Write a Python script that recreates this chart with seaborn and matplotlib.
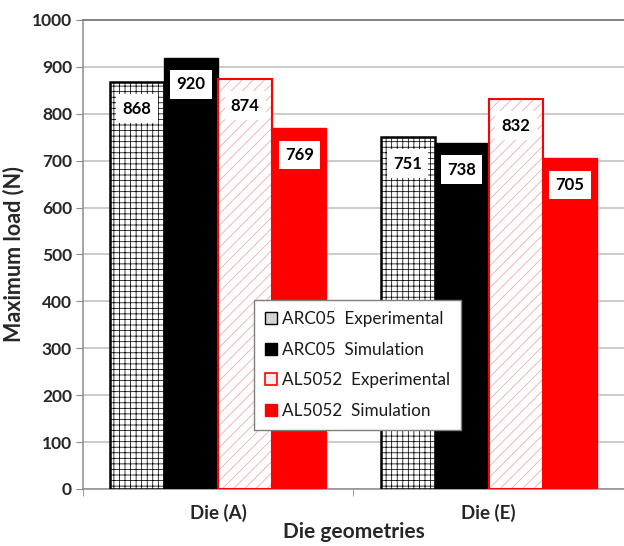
import matplotlib
matplotlib.use("Agg")
import matplotlib.pyplot as plt
import seaborn as sns
import pandas as pd
from matplotlib.patches import Patch, Rectangle

# ---- data ----
dies = ["Die (A)", "Die (E)"]
series = ["ARC05  Experimental", "ARC05  Simulation", "AL5052  Experimental", "AL5052  Simulation"]
arc05_exp = [868, 751]
arc05_sim = [920, 738]
al5052_exp = [874, 832]
al5052_sim = [769, 705]
yticks = [0, 100, 200, 300, 400, 500, 600, 700, 800, 900, 1000]

values = [arc05_exp, arc05_sim, al5052_exp, al5052_sim]
rows = []
for s, vals in zip(series, values):
    for d, v in zip(dies, vals):
        rows.append({"die": d, "load": v, "series": s})
df = pd.DataFrame(rows)

sns.set_style("white")
FONT = ["Lato", "DejaVu Sans"]
plt.rcParams["font.family"] = FONT
plt.rcParams["hatch.linewidth"] = 0.55

fig = plt.figure(figsize=(6.24, 5.46), dpi=100)
ax = fig.add_axes([0.133, 0.1044, 0.867, 0.859])

palette = {series[0]: "white", series[1]: "black", series[2]: "white", series[3]: "#ff0000"}
sns.barplot(data=df, x="die", y="load", hue="series", hue_order=series, order=dies,
            palette=palette, saturation=1, width=0.8, legend=False, ax=ax, zorder=3)

# style each series
for i, cont in enumerate(ax.containers):
    for p in cont.patches:
        if i == 0:
            p.set_facecolor("white")
            p.set_edgecolor("black")
            p.set_hatch("+++")
            p.set_linewidth(0.7)
            ax.add_patch(Rectangle(p.get_xy(), p.get_width(), p.get_height(), fill=False,
                                   edgecolor="black", lw=1.8, zorder=4))
        elif i == 1:
            p.set_facecolor("black")
            p.set_edgecolor("black")
            p.set_linewidth(1.0)
        elif i == 2:
            p.set_facecolor("white")
            p.set_edgecolor("#f4a3a3")
            p.set_hatch("///")
            p.set_linewidth(0.7)
            ax.add_patch(Rectangle(p.get_xy(), p.get_width(), p.get_height(), fill=False,
                                   edgecolor="#ff0000", lw=1.5, zorder=4))
        else:
            p.set_facecolor("#ff0000")
            p.set_edgecolor("#ff0000")
            p.set_linewidth(1.0)

# value labels
for cont in ax.containers:
    for p in cont.patches:
        h = p.get_height()
        ax.text(p.get_x() + p.get_width() / 2, h - 57, f"{h:.0f}", ha="center", va="center",
                fontsize=12, fontweight="bold", color="black", zorder=6, family=FONT,
                bbox=dict(boxstyle="square,pad=0.38", facecolor="white", edgecolor="none"))

# axes
ax.set_ylim(0, 1000)
ax.set_xlim(-0.5, 1.5)
ax.set_yticks(yticks)
ax.set_yticklabels([str(t) for t in yticks], fontsize=12.5, fontweight="bold")
ax.yaxis.grid(True, color="#bdbdbd", lw=1.1, zorder=0)
ax.set_axisbelow(True)
ax.tick_params(axis="y", which="major", length=5, color="#8c8c8c", direction="out", pad=3, left=True)
ax.set_xticks([0, 1])
ax.set_xticklabels(dies, fontsize=13.5, fontweight="bold")
ax.set_xticks([-0.5, 0.5, 1.5], minor=True)
ax.tick_params(axis="x", which="major", length=0, pad=11)
ax.tick_params(axis="x", which="minor", length=5, color="#8c8c8c", direction="out", bottom=True)

for side in ["left", "bottom"]:
    ax.spines[side].set_color("#8c8c8c")
    ax.spines[side].set_linewidth(1.1)
ax.spines["top"].set_visible(True)
ax.spines["top"].set_color("#7a7a7a")
ax.spines["top"].set_linewidth(1.3)
ax.spines["right"].set_visible(False)

ax.set_ylabel("Maximum load (N)", fontsize=15.5, fontweight="bold", labelpad=5)
ax.set_xlabel("Die geometries", fontsize=15, fontweight="bold", labelpad=0)

handles = [
    Patch(facecolor="#d4d4d4", edgecolor="black", lw=1.0),
    Patch(facecolor="black", edgecolor="black", lw=1.0),
    Patch(facecolor="#fdecec", edgecolor="#ff0000", lw=1.2),
    Patch(facecolor="#ff0000", edgecolor="#ff0000", lw=1.0),
]
leg = ax.legend(handles, series, loc="upper left", bbox_to_anchor=(0.316, 0.403),
                frameon=True, fancybox=False, framealpha=1, edgecolor="#7f7f7f",
                fontsize=12.3, handlelength=0.7, handleheight=0.7, handletextpad=0.3,
                labelspacing=0.85, borderpad=0.65, borderaxespad=0)
leg.get_frame().set_linewidth(1.0)
leg.set_zorder(10)
for t in leg.get_texts():
    t.set_color("#1a1a1a")

fig.savefig("out.png", dpi=100)
